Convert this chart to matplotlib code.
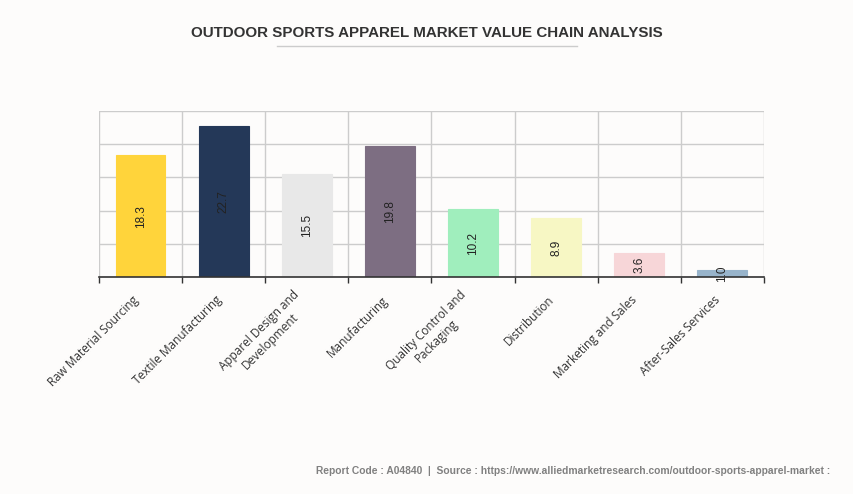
import matplotlib
import matplotlib.pyplot as plt
from matplotlib.lines import Line2D
from matplotlib.transforms import ScaledTranslation

matplotlib.use("agg")

stages = ["Raw Material Sourcing", "Textile Manufacturing", "Apparel Design and\nDevelopment",
          "Manufacturing", "Quality Control and\nPackaging", "Distribution",
          "Marketing and Sales", "After-Sales Services"]
values = [18.3, 22.7, 15.5, 19.8, 10.2, 8.9, 3.6, 1.0]
colors = ["#FFD43B", "#243858", "#E8E8E8", "#7D6E82", "#A0EEBD", "#F7F7C4", "#F7D6D8", "#98B4CB"]

bg = "#FDFCFB"
fig = plt.figure(figsize=(8.54, 4.94), dpi=100, facecolor=bg)
ax = fig.add_axes([99 / 854, 1 - 277 / 494, 665 / 854, 166 / 494], facecolor=bg)

x = list(range(len(stages)))
bars = ax.bar(x, values, width=0.6, color=colors, edgecolor=colors, linewidth=0.8, zorder=3)

for xi, v in zip(x, values):
    ax.text(xi, v / 2, f"{v:.1f}", rotation=90, ha="center", va="center",
            fontsize=8.5, family="Liberation Sans", color="#222222", zorder=4)

ax.set_xlim(-0.5, len(stages) - 0.5)
ax.set_ylim(0, 25)
ax.set_yticks([0, 5, 10, 15, 20, 25])
ax.set_yticklabels([])
ax.tick_params(axis="y", length=0)

# gridlines at category boundaries, ticks as well
bounds = [i - 0.5 for i in range(len(stages) + 1)]
ax.set_xticks(bounds, minor=True)
ax.set_xticks(x)
ax.set_xticklabels([])
ax.tick_params(axis="x", which="major", length=0)
ax.tick_params(axis="x", which="minor", length=4, width=1, color="#333333", direction="out")
ax.grid(True, which="minor", axis="x", color="#CCCCCC", linewidth=1, zorder=0)
ax.grid(True, which="major", axis="y", color="#CCCCCC", linewidth=1, zorder=0)
ax.set_axisbelow(True)

# category labels, rotated, ending under the bar centre
shift = ScaledTranslation(-0.04, -0.21, fig.dpi_scale_trans)
for xi, name in zip(x, stages):
    ax.text(xi, 0, name, transform=ax.get_xaxis_transform() + shift,
            rotation=45, ha="right", va="center", rotation_mode="anchor",
            multialignment="center", fontsize=8.5, family="Open Sans", color="#333333")

for side in ["left", "right", "top"]:
    ax.spines[side].set_visible(False)
ax.spines["bottom"].set_color("#333333")
ax.spines["bottom"].set_linewidth(1.2)
ax.spines["bottom"].set_zorder(5)

fig.text(427 / 854, 1 - 33 / 494, "OUTDOOR SPORTS APPAREL MARKET VALUE CHAIN ANALYSIS",
         ha="center", va="center", fontsize=10.9, fontweight="bold",
         family="Liberation Sans", color="#333333")
fig.add_artist(Line2D([277 / 854, 577 / 854], [1 - 46 / 494, 1 - 46 / 494],
                      color="#CCCCCC", linewidth=1, transform=fig.transFigure))

fig.text(830 / 854, 1 - 471 / 494,
         "Report Code : A04840  |  Source : https://www.alliedmarketresearch.com/outdoor-sports-apparel-market :",
         ha="right", va="center", fontsize=7.38, fontweight="bold",
         family="Liberation Sans", color="#808080")

fig.savefig("out.png", dpi=100, facecolor=bg)
